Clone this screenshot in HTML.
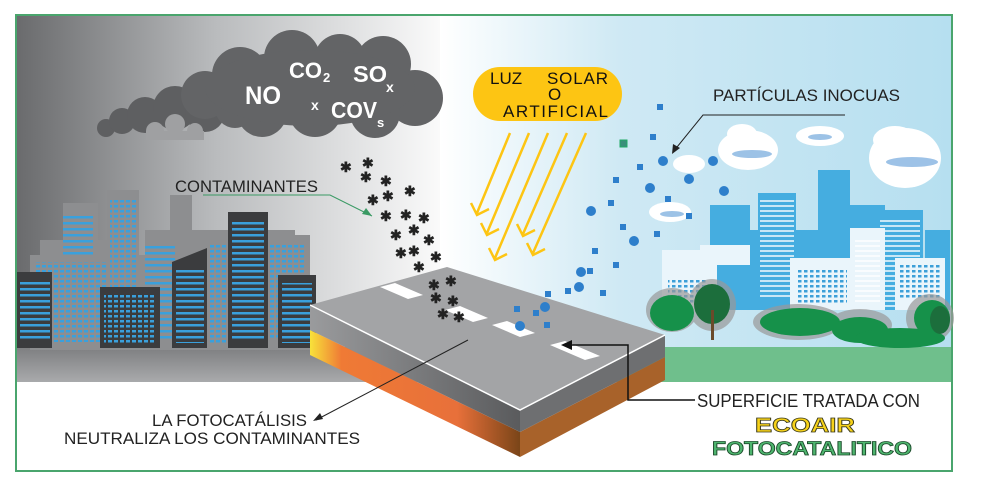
<!DOCTYPE html>
<html><head><meta charset="utf-8"><style>
html,body{margin:0;padding:0;background:#fff}
svg{display:block}
text{font-family:"Liberation Sans",sans-serif}
</style></head><body>
<svg width="983" height="489" viewBox="0 0 983 489" xmlns="http://www.w3.org/2000/svg">
<defs>
<linearGradient id="lg" x1="0" x2="1"><stop offset="0" stop-color="#6a6b6d"/><stop offset="0.45" stop-color="#b9bbbd"/><stop offset="1" stop-color="#ffffff"/></linearGradient>
<linearGradient id="rg" x1="0" x2="1"><stop offset="0" stop-color="#ffffff"/><stop offset="0.35" stop-color="#cfe9f4"/><stop offset="1" stop-color="#b6dff0"/></linearGradient>
<linearGradient id="or" x1="0" x2="1"><stop offset="0" stop-color="#f8e23a"/><stop offset="0.15" stop-color="#ef7a35"/><stop offset="0.7" stop-color="#e8703a"/><stop offset="1" stop-color="#7a4518"/></linearGradient>
<linearGradient id="gy" x1="0" x2="1"><stop offset="0" stop-color="#9a9b9d"/><stop offset="1" stop-color="#5a5b5d"/></linearGradient>
<linearGradient id="gd" x1="0" x2="0" y1="0" y2="1"><stop offset="0" stop-color="#7d7e80"/><stop offset="1" stop-color="#a9aaac"/></linearGradient>
<pattern id="win" width="6" height="5" patternUnits="userSpaceOnUse"><rect width="4" height="2.5" fill="#3aa0dc"/></pattern>
<pattern id="str" width="10" height="6" patternUnits="userSpaceOnUse"><rect width="10" height="2.5" fill="#3aa0dc"/></pattern>
<pattern id="winw" width="6" height="5" patternUnits="userSpaceOnUse"><rect width="3.5" height="2.5" fill="#3c9fd8"/></pattern>
<pattern id="strw" width="10" height="5" patternUnits="userSpaceOnUse"><rect width="10" height="2" fill="#ffffff" opacity=".7"/></pattern>
</defs>
<rect x="16" y="15" width="936" height="456" fill="#fff" stroke="#4aa56d" stroke-width="2"/>
<rect x="17" y="16" width="440" height="366" fill="url(#lg)"/>
<rect x="440" y="16" width="511" height="366" fill="url(#rg)"/>
<rect x="17" y="347" width="400" height="35" fill="url(#gd)"/>
<rect x="560" y="347" width="391" height="35" fill="#6fbf8c"/>
<!-- left city -->
<g fill="#8d8e90">
<rect x="63" y="203" width="35" height="60"/><rect x="107" y="190" width="32" height="160"/><rect x="170" y="195" width="22" height="40"/>
<rect x="145" y="230" width="150" height="120"/><rect x="40" y="240" width="80" height="110"/><rect x="30" y="255" width="130" height="95"/>
<rect x="186" y="240" width="60" height="110"/><rect x="255" y="235" width="55" height="115"/>
</g>
<rect x="63" y="213" width="30" height="45" fill="url(#str)"/>
<rect x="110" y="200" width="27" height="90" fill="url(#win)"/>
<rect x="35" y="262" width="60" height="80" fill="url(#win)"/>
<rect x="78" y="262" width="30" height="80" fill="url(#win)"/>
<rect x="145" y="245" width="30" height="95" fill="url(#str)"/>
<rect x="210" y="245" width="25" height="100" fill="url(#win)"/>
<rect x="255" y="245" width="50" height="95" fill="url(#win)"/>
<g fill="#3b3c3e">
<rect x="17" y="272" width="35" height="76"/><rect x="100" y="287" width="60" height="61"/><polygon points="172,262 207,248 207,348 172,348"/>
<rect x="228" y="212" width="40" height="136"/><rect x="278" y="275" width="38" height="73"/>
</g>
<rect x="20" y="280" width="30" height="62" fill="url(#str)"/>
<rect x="104" y="295" width="52" height="48" fill="url(#win)"/>
<rect x="176" y="268" width="28" height="75" fill="url(#str)"/>
<rect x="232" y="222" width="32" height="120" fill="url(#str)"/>
<rect x="282" y="283" width="30" height="60" fill="url(#str)"/>
<!-- right city -->
<g fill="#45ade0">
<rect x="710" y="205" width="40" height="105"/><rect x="758" y="193" width="38" height="117"/><rect x="818" y="170" width="32" height="140"/><rect x="878" y="210" width="45" height="100"/>
<rect x="740" y="230" width="80" height="80"/><rect x="835" y="205" width="50" height="105"/><rect x="925" y="230" width="25" height="80"/>
</g>
<rect x="760" y="200" width="34" height="100" fill="url(#strw)"/>
<rect x="880" y="218" width="40" height="90" fill="url(#strw)"/>
<g fill="#eaf5fb">
<rect x="662" y="250" width="55" height="60"/><rect x="790" y="258" width="65" height="52"/><rect x="700" y="245" width="50" height="20"/><rect x="895" y="258" width="50" height="52"/><rect x="850" y="228" width="35" height="82"/>
</g>
<rect x="668" y="280" width="40" height="25" fill="url(#winw)"/>
<rect x="797" y="268" width="50" height="35" fill="url(#winw)"/>
<rect x="900" y="265" width="40" height="35" fill="url(#winw)"/>
<rect x="855" y="240" width="25" height="65" fill="url(#strw)"/>
<g fill="#999" opacity=".7"><ellipse cx="672" cy="310" rx="26" ry="22"/><ellipse cx="712" cy="305" rx="24" ry="26"/><ellipse cx="798" cy="322" rx="45" ry="18"/><ellipse cx="860" cy="325" rx="32" ry="16"/><ellipse cx="930" cy="318" rx="24" ry="24"/></g>
<g fill="#16914a">
<ellipse cx="672" cy="313" rx="22" ry="18"/><ellipse cx="800" cy="322" rx="40" ry="14"/><ellipse cx="860" cy="330" rx="28" ry="13"/><ellipse cx="932" cy="318" rx="18" ry="18"/><ellipse cx="900" cy="338" rx="45" ry="10"/>
</g>
<g fill="#1c6e3c"><ellipse cx="712" cy="304" rx="18" ry="20"/><ellipse cx="940" cy="320" rx="10" ry="14"/></g>
<rect x="711" y="310" width="3" height="30" fill="#6b4a2a"/>
<!-- clouds right -->
<g fill="#fff">
<ellipse cx="748" cy="150" rx="30" ry="20"/><ellipse cx="742" cy="134" rx="15" ry="10"/>
<ellipse cx="820" cy="136" rx="24" ry="10"/>
<ellipse cx="905" cy="158" rx="36" ry="30"/><ellipse cx="895" cy="140" rx="22" ry="14"/>
<ellipse cx="689" cy="164" rx="16" ry="9"/><ellipse cx="670" cy="212" rx="21" ry="10"/>
</g>
<g fill="#3b86cf" opacity=".5"><ellipse cx="752" cy="154" rx="20" ry="4"/><ellipse cx="820" cy="137" rx="12" ry="3"/><ellipse cx="912" cy="162" rx="26" ry="5"/><ellipse cx="672" cy="214" rx="12" ry="3"/></g>
<!-- dark cloud -->
<g fill="#5e5f61">
<circle cx="106" cy="128" r="9"/><circle cx="122" cy="121" r="13"/><circle cx="145" cy="115" r="18"/><circle cx="175" cy="108" r="22"/><circle cx="205" cy="112" r="20"/>
</g>
<g fill="#636466">
<circle cx="205" cy="95" r="24"/><circle cx="240" cy="75" r="28"/><circle cx="292" cy="58" r="28"/><circle cx="340" cy="60" r="26"/><circle cx="383" cy="64" r="28"/><circle cx="415" cy="98" r="28"/><circle cx="375" cy="113" r="25"/><circle cx="315" cy="110" r="27"/><circle cx="262" cy="112" r="25"/><circle cx="235" cy="108" r="20"/>
<ellipse cx="310" cy="88" rx="105" ry="38"/>
</g>
<g fill="#9fa0a2"><circle cx="155" cy="131" r="9"/><circle cx="175" cy="124" r="10"/><circle cx="195" cy="131" r="8"/><rect x="146" y="131" width="58" height="9"/></g>
<g fill="#fff" font-weight="bold">
<text x="245" y="104" font-size="25" textLength="36" lengthAdjust="spacingAndGlyphs">NO</text>
<text x="289" y="78" font-size="22" textLength="33" lengthAdjust="spacingAndGlyphs">CO</text><text x="323" y="82" font-size="13">2</text>
<text x="353" y="82" font-size="23" textLength="34" lengthAdjust="spacingAndGlyphs">SO</text><text x="386" y="92" font-size="14">x</text>
<text x="311" y="110" font-size="14">x</text>
<text x="331" y="118" font-size="23" textLength="46" lengthAdjust="spacingAndGlyphs">COV</text><text x="377" y="127" font-size="13">s</text>
</g>
<!-- yellow label -->
<rect x="473" y="67" width="149" height="54" rx="27" fill="#fdc513"/>
<g font-size="17" fill="#111"><text x="490" y="84">LUZ</text><text x="547" y="84" textLength="61">SOLAR</text><text x="548" y="100">O</text><text x="503" y="117" textLength="105">ARTIFICIAL</text></g>
<g stroke="#fdc513" stroke-width="2.5" fill="none">
<path d="M510 133 L477 213 M471 203 L477 215 L489 209"/>
<path d="M529 133 L487 233 M481 223 L487 235 L499 229"/>
<path d="M548 133 L495 258 M489 248 L495 260 L507 254"/>
<path d="M567 133 L523 234 M517 224 L523 236 L535 230"/>
<path d="M586 133 L533 253 M527 243 L533 255 L545 249"/>
</g>
<!-- slab -->
<polygon points="310,330 520,432 520,457 310,355" fill="url(#or)"/>
<polygon points="520,432 665,357 665,380 520,457" fill="#a8622a"/>
<polygon points="310,305 520,410 520,432 310,330" fill="url(#gy)"/>
<polygon points="520,410 665,335 665,357 520,432" fill="#6e6f71"/>
<polygon points="310,305 447,267 665,335 520,410" fill="#a3a4a6"/>
<polyline points="310,305 520,410 665,335" fill="none" stroke="#fff" stroke-width="1.5"/>
<g fill="#fff">
<polygon points="380,287 395,283 423,295 408,299"/><polygon points="445,310 460,306 488,318 473,322"/><polygon points="492,325 507,321 535,333 520,337"/><polygon points="550,345 565,341 600,356 585,360"/>
</g>
<!-- pollutant dots -->
<g font-size="14" fill="#222" font-weight="bold">
<text x="340" y="172">✱</text><text x="362" y="168">✱</text><text x="360" y="182">✱</text><text x="380" y="186">✱</text>
<text x="367" y="205">✱</text><text x="382" y="201">✱</text><text x="404" y="196">✱</text>
<text x="380" y="221">✱</text><text x="400" y="220">✱</text><text x="418" y="223">✱</text>
<text x="390" y="240">✱</text><text x="408" y="235">✱</text><text x="423" y="245">✱</text>
<text x="395" y="258">✱</text><text x="408" y="256">✱</text><text x="430" y="262">✱</text>
<text x="413" y="272">✱</text><text x="428" y="290">✱</text><text x="445" y="286">✱</text>
<text x="430" y="303">✱</text><text x="447" y="306">✱</text><text x="437" y="319">✱</text><text x="453" y="322">✱</text>
</g>
<!-- blue particles -->
<g fill="#2e7fcb">
<rect x="657" y="104" width="6" height="6"/><rect x="650" y="134" width="6" height="6"/><rect x="637" y="164" width="6" height="6"/><rect x="613" y="177" width="6" height="6"/>
<rect x="608" y="200" width="6" height="6"/><rect x="620" y="224" width="6" height="6"/><rect x="613" y="262" width="6" height="6"/><rect x="592" y="248" width="6" height="6"/><rect x="587" y="268" width="6" height="6"/>
<rect x="665" y="196" width="6" height="6"/><rect x="654" y="231" width="6" height="6"/><rect x="686" y="213" width="6" height="6"/><rect x="600" y="290" width="6" height="6"/><rect x="565" y="288" width="6" height="6"/><rect x="545" y="291" width="6" height="6"/><rect x="514" y="306" width="6" height="6"/><rect x="533" y="310" width="6" height="6"/><rect x="544" y="322" width="6" height="6"/>
<circle cx="663" cy="161" r="5"/><circle cx="713" cy="161" r="5"/><circle cx="650" cy="188" r="5"/><circle cx="689" cy="179" r="5"/><circle cx="724" cy="191" r="5"/><circle cx="591" cy="211" r="5"/><circle cx="634" cy="241" r="5"/><circle cx="581" cy="272" r="5"/><circle cx="579" cy="287" r="5"/><circle cx="545" cy="307" r="5"/><circle cx="520" cy="326" r="5"/>
</g>
<rect x="620" y="140" width="7" height="7" fill="#3a8f7a" stroke="#2a6" stroke-width="1"/>
<!-- labels -->
<text x="175" y="192" font-size="17" fill="#222" textLength="143" lengthAdjust="spacingAndGlyphs">CONTAMINANTES</text>
<polyline points="203,195 330,195 372,216" fill="none" stroke="#3a9a64" stroke-width="1"/>
<polygon points="372,216 362,214 366,208" fill="#3a9a64"/>
<text x="713" y="101" font-size="17" fill="#222" textLength="187" lengthAdjust="spacingAndGlyphs">PARTÍCULAS INOCUAS</text>
<polyline points="845,115 703,115 673,152" fill="none" stroke="#222" stroke-width="1"/>
<polygon points="672,154 673,144 680,148" fill="#222"/>
<text x="152" y="426" font-size="17" fill="#222" textLength="155" lengthAdjust="spacingAndGlyphs">LA FOTOCATÁLISIS</text>
<text x="64" y="444" font-size="17" fill="#222" textLength="296" lengthAdjust="spacingAndGlyphs">NEUTRALIZA LOS CONTAMINANTES</text>
<line x1="468" y1="340" x2="316" y2="420" stroke="#222" stroke-width="1"/>
<polygon points="313,421 320,413 323,419" fill="#222"/>
<polyline points="695,400 628,400 628,345 565,345" fill="none" stroke="#111" stroke-width="1.5"/>
<polygon points="561,345 572,340 572,350" fill="#111"/>
<text x="697" y="407" font-size="18" fill="#222" textLength="223" lengthAdjust="spacingAndGlyphs">SUPERFICIE TRATADA CON</text>
<text x="755" y="432" font-size="20" font-weight="bold" fill="#f7d21a" stroke="#3a3a1a" stroke-width="0.8" font-family="Liberation Serif,serif" textLength="100" lengthAdjust="spacingAndGlyphs">ECOAIR</text>
<text x="712" y="455" font-size="19" font-weight="bold" fill="#4fb66f" stroke="#1a4a2a" stroke-width="0.8" font-family="Liberation Serif,serif" textLength="200" lengthAdjust="spacingAndGlyphs">FOTOCATALITICO</text>
</svg>
</body></html>
